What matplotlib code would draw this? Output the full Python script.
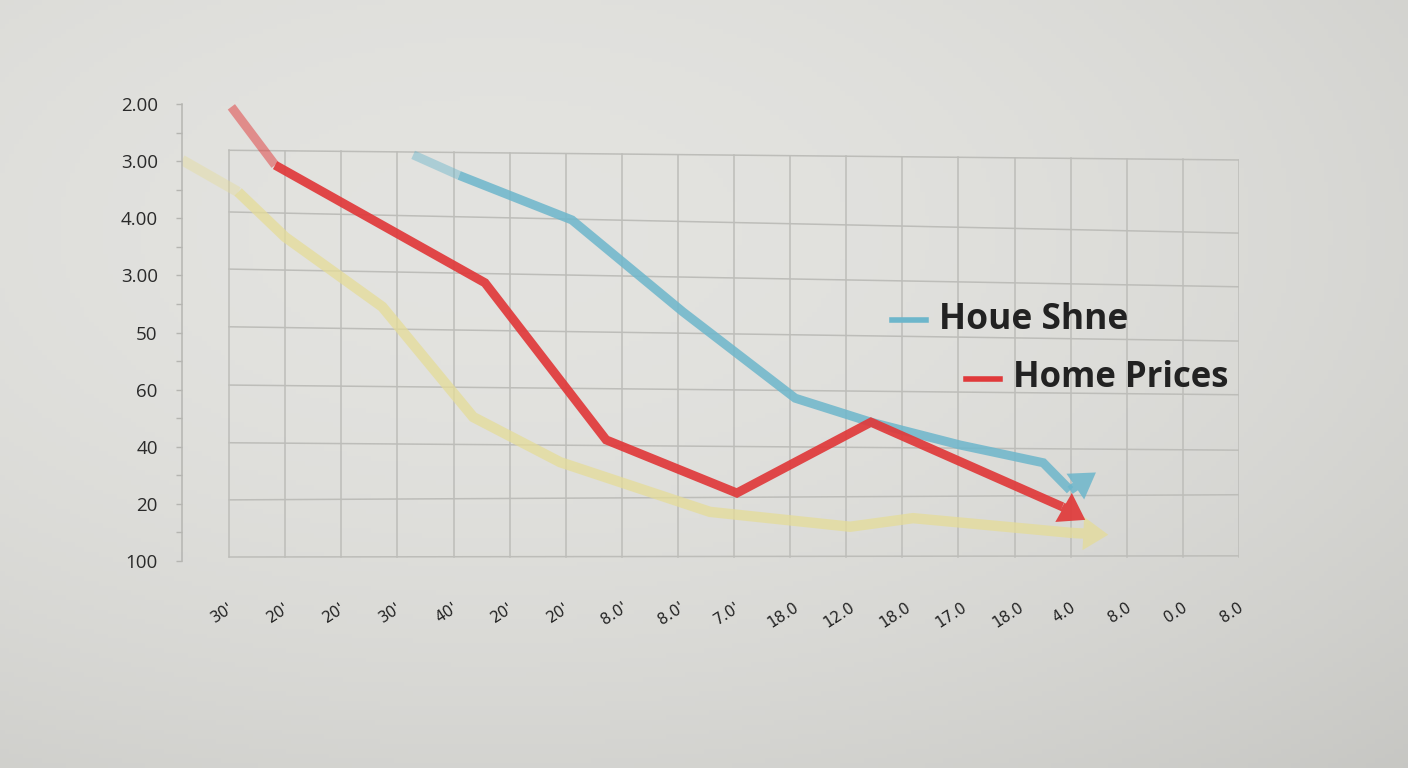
import numpy as np
import matplotlib
matplotlib.use("Agg")
import matplotlib.pyplot as plt
import matplotlib.transforms as mtransforms

plt.rcParams['font.family'] = ['Open Sans', 'DejaVu Sans']

# y axis: 9 tick positions, bottom to top labels as printed on the chart
y_tick_labels = ['100', '20', '40', '60', '50', '3.00', '4.00', '3.00', '2.00']
x_tick_labels = ["30'", "20'", "20'", "30'", "40'", "20'", "20'", "8.0'", "8.0'",
                 "7.0'", "18.0", "12.0", "18.0", "17.0", "18.0", "4.0", "8.0",
                 "0.0", "8.0"]

# series (x = category position, y = position on the 0..8 tick scale)
home_x = [0.04, 0.82, 4.56, 6.72, 9.05, 11.44, 14.85, 15.26]
home_y = [7.95, 6.93, 4.87, 2.12, 1.19, 2.43, 0.95, 0.72]

share_x = [3.28, 4.10, 6.11, 8.09, 10.09, 11.44, 13.03, 14.51, 14.99, 15.45]
share_y = [7.11, 6.75, 5.97, 4.36, 2.85, 2.43, 2.03, 1.72, 1.24, 1.55]

yellow_x = [-0.84, 0.16, 1.00, 2.73, 4.35, 5.90, 8.57, 11.07, 12.19, 15.04, 15.67]
yellow_y = [7.02, 6.46, 5.67, 4.45, 2.52, 1.73, 0.86, 0.60, 0.75, 0.49, 0.46]

# slightly skewed grid rows (left end, right end)
grid_left = [7.19, 6.11, 5.11, 4.10, 3.08, 2.07, 1.07, 0.07]
grid_right = [7.02, 5.74, 4.80, 3.85, 2.91, 1.94, 1.16, 0.09]

RED = '#e0393a'
BLUE = '#6db6cb'
YELLOW = '#e5dc98'

fig = plt.figure(figsize=(14.08, 7.68), dpi=100)

# background gradient
bg = fig.add_axes([0, 0, 1, 1])
gx, gy = np.meshgrid(np.linspace(0, 1, 300), np.linspace(0, 1, 160))
d = np.sqrt((gx - 0.35) ** 2 + (gy - 0.3) ** 2) / 0.955
v = 0.89 - 0.11 * d ** 2
img = np.stack([v, v, v - 0.014], axis=-1)
bg.imshow(img, aspect='auto', extent=[0, 1, 1, 0])
bg.axis('off')

W, H = 1408, 768
ax = fig.add_axes([182 / W, (H - 561) / H, (1239 - 182) / W, (561 - 104) / H])
ax.set_facecolor('none')
ax.set_xlim(-0.84, 18)
ax.set_ylim(0, 8)

# grid
GRID = '#bdbdb9'
for i in range(len(x_tick_labels)):
    top = grid_left[0] + (grid_right[0] - grid_left[0]) * i / 18
    ax.plot([i, i], [grid_left[-1], top], color=GRID, lw=1.1, zorder=1)
for yl, yr in zip(grid_left, grid_right):
    ax.plot([0, 18], [yl, yr], color=GRID, lw=1.1, zorder=1)


def draw_series(xs, ys, color, alpha, lw, z, head_w=0.8):
    # faded first segment, solid rest, arrow head on last segment
    ax.plot(xs[:2], ys[:2], color=color, alpha=alpha * 0.55, lw=lw,
            solid_capstyle='butt', zorder=z)
    ax.plot(xs[1:-1], ys[1:-1], color=color, alpha=alpha, lw=lw,
            solid_joinstyle='miter', solid_capstyle='butt', zorder=z)
    tw = lw / 30.0
    ax.annotate('', xy=(xs[-1], ys[-1]), xytext=(xs[-2], ys[-2]),
                arrowprops=dict(arrowstyle='simple,head_length=0.6,head_width=%.2f,tail_width=%.3f' % (head_w, tw),
                                mutation_scale=30, color=color, alpha=alpha, lw=0,
                                shrinkA=0, shrinkB=0),
                zorder=z)


draw_series(yellow_x, yellow_y, YELLOW, 0.75, 7.5, 2)
draw_series(share_x, share_y, BLUE, 0.85, 6.5, 3, head_w=0.75)
draw_series(home_x, home_y, RED, 0.92, 6.5, 4)

# axes styling
for s in ['top', 'right', 'bottom']:
    ax.spines[s].set_visible(False)
ax.spines['left'].set_color('#b5b5b1')
ax.spines['left'].set_linewidth(1.1)

ax.set_yticks(range(9))
ax.set_yticklabels(y_tick_labels, fontsize=13.5, color='#2a2a2a')
ax.set_yticks(np.arange(0.5, 8, 1), minor=True)
ax.tick_params(axis='y', which='major', length=4.5, width=1, color='#b5b5b1', pad=13)
ax.tick_params(axis='y', which='minor', length=4, width=1, color='#b5b5b1')

ax.set_xticks(range(len(x_tick_labels)))
ax.set_xticklabels(x_tick_labels, rotation=33, fontsize=11, color='#222222',
                   family='DejaVu Sans')
ax.tick_params(axis='x', length=0, pad=28)
shift = mtransforms.ScaledTranslation(-7 / 100, 0, fig.dpi_scale_trans)
for lab in ax.get_xticklabels():
    lab.set_transform(lab.get_transform() + shift)

# legend drawn as text + dash
fig.lines.append(plt.Line2D([892 / W, 926 / W], [1 - 320 / H, 1 - 320 / H],
                            color=BLUE, lw=4, transform=fig.transFigure))
fig.text(939 / W, 1 - 320 / H, 'Houe Shne', fontsize=25.5, fontweight='bold',
         color='#222222', va='center', ha='left')
fig.lines.append(plt.Line2D([966 / W, 1000 / W], [1 - 379 / H, 1 - 379 / H],
                            color=RED, lw=4, transform=fig.transFigure))
fig.text(1013 / W, 1 - 378 / H, 'Home Prices', fontsize=25, fontweight='bold',
         color='#222222', va='center', ha='left')

fig.savefig('out.png', dpi=100)
